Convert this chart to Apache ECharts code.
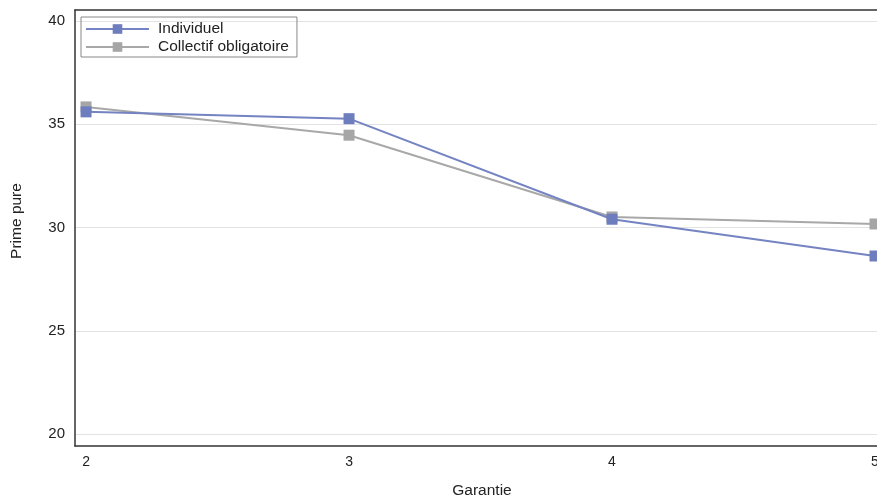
<!DOCTYPE html>
<html><head><meta charset="utf-8">
<script src="https://cdn.jsdelivr.net/npm/echarts@6/dist/echarts.min.js"></script>
<style>html,body{margin:0;padding:0;background:#fff}#c{width:877px;height:501px}</style>
</head><body><div id="c"></div>
<script>
const garanties = [2, 3, 4, 5];
const individuel = [35.60, 35.27, 30.40, 28.62];
const collectif = [35.84, 34.47, 30.51, 30.17];
const yTicks = [20, 25, 30, 35, 40];
const seriesNames = ['Individuel', 'Collectif obligatoire'];

const chart = echarts.init(document.getElementById('c'), null, {renderer: 'canvas'});
const font = 'Liberation Sans, Arial, sans-serif';
const frameLine = {show: true, lineStyle: {color: '#333', width: 1.5}};
chart.setOption({
  animation: false,
  backgroundColor: '#fff',
  textStyle: {fontFamily: font},
  grid: [
    {left: 75, right: 0, top: 21, bottom: 67, show: false, outerBoundsMode: 'none', containLabel: false},
    {left: 75, right: 0, top: 10, bottom: 55, show: false, outerBoundsMode: 'none', containLabel: false}
  ],
  xAxis: [
    {type: 'value', gridIndex: 0, min: 1.958, max: 5.0076,
     axisLine: {show: false}, axisTick: {show: false}, splitLine: {show: false},
     axisLabel: {customValues: garanties, margin: 21, color: '#222', fontSize: 14, fontFamily: font}},
    {type: 'value', gridIndex: 1, position: 'bottom', min: 0, max: 1,
     axisLine: frameLine, axisTick: {show: false}, axisLabel: {show: false}, splitLine: {show: false}},
    {type: 'value', gridIndex: 1, position: 'top', min: 0, max: 1,
     axisLine: frameLine, axisTick: {show: false}, axisLabel: {show: false}, splitLine: {show: false}}
  ],
  yAxis: [
    {type: 'value', gridIndex: 0, min: 20, max: 40, interval: 5,
     axisLine: {show: false}, axisTick: {show: false},
     splitLine: {lineStyle: {color: '#e3e3e3', width: 1}},
     axisLabel: {margin: 10, color: '#222', fontSize: 15, fontFamily: font}},
    {type: 'value', gridIndex: 1, position: 'left', min: 0, max: 1,
     axisLine: frameLine, axisTick: {show: false}, axisLabel: {show: false}, splitLine: {show: false}}
  ],
  legend: {
    orient: 'vertical', left: 81, top: 17, itemWidth: 63, itemHeight: 12, itemGap: 2,
    padding: [4, 8, 2, 4], borderColor: '#888', borderWidth: 1, borderRadius: 0,
    textStyle: {fontSize: 15.5, color: '#222', fontFamily: font, padding: [0, 0, 0, 4]},
    data: seriesNames
  },
  graphic: [
    {type: 'text', x: 482, y: 491, style: {text: 'Garantie', fontSize: 15.5, fill: '#222', fontFamily: font, align: 'center', verticalAlign: 'middle'}},
    {type: 'text', x: 17, y: 221, rotation: Math.PI / 2, style: {text: 'Prime pure', fontSize: 15.5, fill: '#222', fontFamily: font, align: 'center', verticalAlign: 'middle'}}
  ],
  series: [
    {name: seriesNames[0], type: 'line', xAxisIndex: 0, yAxisIndex: 0,
     data: garanties.map((g, i) => [g, individuel[i]]),
     symbol: 'rect', symbolSize: 11, lineStyle: {color: '#7483C1', width: 2},
     itemStyle: {color: '#6E7DBE'}, z: 3},
    {name: seriesNames[1], type: 'line', xAxisIndex: 0, yAxisIndex: 0,
     data: garanties.map((g, i) => [g, collectif[i]]),
     symbol: 'rect', symbolSize: 11, lineStyle: {color: '#A8A8A8', width: 2},
     itemStyle: {color: '#A6A6A6'}, z: 2}
  ]
});
</script></body></html>
